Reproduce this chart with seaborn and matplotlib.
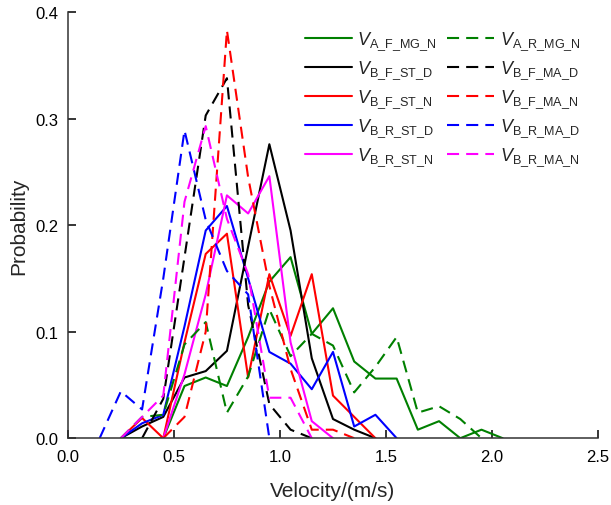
import matplotlib

matplotlib.use("Agg")
import matplotlib.pyplot as plt
import numpy as np
import pandas as pd
import seaborn as sns


# bin centres (m/s) and probabilities
v_a_f_mg_n = [0.25, 0.35, 0.45, 0.55, 0.65, 0.75, 0.85, 0.95, 1.05, 1.15,
              1.25, 1.35, 1.45, 1.55, 1.65, 1.75, 1.85, 1.95, 2.05]
p_a_f_mg_n = [0.0, 0.0, 0.0, 0.049, 0.057, 0.049, 0.095, 0.147, 0.17, 0.098,
              0.122, 0.072, 0.056, 0.056, 0.008, 0.016, 0.0, 0.008, 0.0]

v_b_f_st_d = [0.25, 0.35, 0.45, 0.55, 0.65, 0.75, 0.85, 0.95, 1.05, 1.15,
              1.25, 1.35, 1.45]
p_b_f_st_d = [0.0, 0.011, 0.02, 0.057, 0.063, 0.082, 0.18, 0.276, 0.195, 0.075,
              0.018, 0.008, 0.0]

v_b_f_st_n = [0.25, 0.35, 0.45, 0.55, 0.65, 0.75, 0.85, 0.95, 1.05, 1.15,
              1.25, 1.35, 1.45]
p_b_f_st_n = [0.0, 0.019, 0.0, 0.09, 0.173, 0.192, 0.057, 0.154, 0.096, 0.154,
              0.04, 0.02, 0.0]

v_b_r_st_d = [0.25, 0.35, 0.45, 0.55, 0.65, 0.75, 0.85, 0.95, 1.05, 1.15,
              1.25, 1.35, 1.45, 1.55]
p_b_r_st_d = [0.0, 0.014, 0.022, 0.105, 0.195, 0.218, 0.15, 0.081, 0.07, 0.046,
              0.081, 0.011, 0.022, 0.0]

v_b_r_st_n = [0.45, 0.55, 0.65, 0.75, 0.85, 0.95, 1.05, 1.15, 1.25]
p_b_r_st_n = [0.0, 0.06, 0.135, 0.228, 0.211, 0.246, 0.09, 0.016, 0.0]

v_a_r_mg_n = [0.25, 0.35, 0.45, 0.55, 0.65, 0.75, 0.85, 0.95, 1.05, 1.15,
              1.25, 1.35, 1.45, 1.55, 1.65, 1.75, 1.85, 1.95]
p_a_r_mg_n = [0.0, 0.02, 0.022, 0.088, 0.109, 0.024, 0.058, 0.121, 0.077, 0.098,
              0.087, 0.043, 0.067, 0.095, 0.024, 0.03, 0.018, 0.0]

v_b_f_ma_d = [0.35, 0.45, 0.55, 0.65, 0.75, 0.85, 0.95, 1.05, 1.15]
p_b_f_ma_d = [0.0, 0.037, 0.17, 0.303, 0.338, 0.125, 0.032, 0.008, 0.0]

v_b_f_ma_n = [0.45, 0.55, 0.65, 0.75, 0.85, 0.95, 1.05, 1.15, 1.25, 1.35]
p_b_f_ma_n = [0.0, 0.02, 0.1, 0.383, 0.245, 0.143, 0.065, 0.008, 0.008, 0.0]

v_b_r_ma_d = [0.15, 0.25, 0.35, 0.45, 0.55, 0.65, 0.75, 0.85, 0.95]
p_b_r_ma_d = [0.0, 0.044, 0.027, 0.15, 0.289, 0.205, 0.157, 0.135, 0.0]

v_b_r_ma_n = [0.25, 0.35, 0.45, 0.55, 0.65, 0.75, 0.85, 0.95, 1.05, 1.15]
p_b_r_ma_n = [0.0, 0.02, 0.04, 0.222, 0.293, 0.206, 0.154, 0.038, 0.038, 0.0]

# solid series first so they fill the left legend column
series = [
    (r"$V_{\mathrm{A\_F\_MG\_N}}$", v_a_f_mg_n, p_a_f_mg_n, "#008000", "-"),
    (r"$V_{\mathrm{B\_F\_ST\_D}}$", v_b_f_st_d, p_b_f_st_d, "#000000", "-"),
    (r"$V_{\mathrm{B\_F\_ST\_N}}$", v_b_f_st_n, p_b_f_st_n, "#FF0000", "-"),
    (r"$V_{\mathrm{B\_R\_ST\_D}}$", v_b_r_st_d, p_b_r_st_d, "#0000FF", "-"),
    (r"$V_{\mathrm{B\_R\_ST\_N}}$", v_b_r_st_n, p_b_r_st_n, "#FF00FF", "-"),
    (r"$V_{\mathrm{A\_R\_MG\_N}}$", v_a_r_mg_n, p_a_r_mg_n, "#008000", "--"),
    (r"$V_{\mathrm{B\_F\_MA\_D}}$", v_b_f_ma_d, p_b_f_ma_d, "#000000", "--"),
    (r"$V_{\mathrm{B\_F\_MA\_N}}$", v_b_f_ma_n, p_b_f_ma_n, "#FF0000", "--"),
    (r"$V_{\mathrm{B\_R\_MA\_D}}$", v_b_r_ma_d, p_b_r_ma_d, "#0000FF", "--"),
    (r"$V_{\mathrm{B\_R\_MA\_N}}$", v_b_r_ma_n, p_b_r_ma_n, "#FF00FF", "--"),
]

sns.set_theme(style="ticks")
plt.rcParams["font.family"] = ["Liberation Sans", "DejaVu Sans"]
plt.rcParams["mathtext.fontset"] = "custom"
plt.rcParams["mathtext.rm"] = "Liberation Sans"
plt.rcParams["mathtext.it"] = "Liberation Sans:italic"

fig, ax = plt.subplots(figsize=(6.11, 5.06), dpi=100)
fig.subplots_adjust(left=0.111, right=0.979, bottom=0.132, top=0.974)

for label, velocity, prob, color, style in series:
    df = pd.DataFrame({"velocity": velocity, "probability": prob})
    sns.lineplot(
        data=df,
        x="velocity",
        y="probability",
        ax=ax,
        color=color,
        linestyle=(0, (5.8, 3.4)) if style == "--" else "-",
        linewidth=1.5,
        label=label,
    )

ax.set_xlim(0, 2.5)
ax.set_ylim(0, 0.4)
ax.set_xticks(np.arange(0, 2.51, 0.5))
ax.set_yticks(np.arange(0, 0.41, 0.1))
ax.set_xlabel("Velocity/(m/s)", fontsize=15, labelpad=12)
ax.set_ylabel("Probability", fontsize=15, labelpad=5)
ax.tick_params(direction="in", length=6, width=1.1, labelsize=12, colors="black")
ax.tick_params(axis="x", pad=8)
ax.tick_params(axis="y", pad=7)
for side in ["top", "right"]:
    ax.spines[side].set_visible(False)
for side in ["left", "bottom"]:
    ax.spines[side].set_linewidth(1.1)
    ax.spines[side].set_color("#333333")

ax.legend(
    ncol=2,
    frameon=False,
    loc="upper left",
    bbox_to_anchor=(0.487, 0.953),
    bbox_transform=fig.transFigure,
    fontsize=13,
    handlelength=2.6,
    handletextpad=0.3,
    columnspacing=0.6,
    labelspacing=0.37,
    borderaxespad=0,
)

fig.savefig("out.png", dpi=100)
